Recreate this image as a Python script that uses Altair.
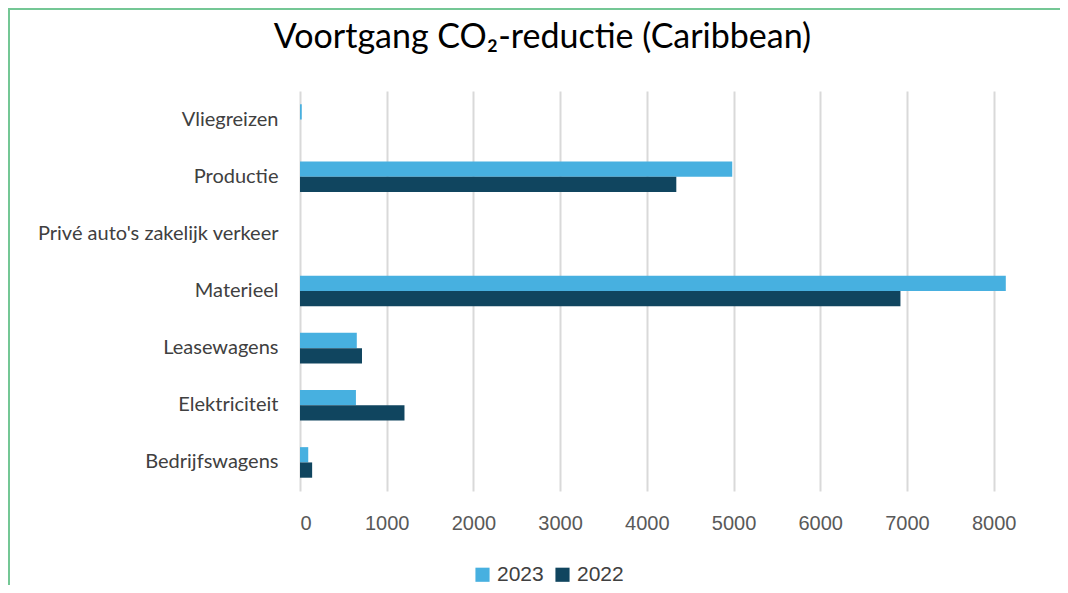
import altair as alt
import pandas as pd

categories = ["Vliegreizen", "Productie", "Privé auto's zakelijk verkeer", "Materieel",
              "Leasewagens", "Elektriciteit", "Bedrijfswagens"]
values_2023 = [20, 4985, 0, 8140, 655, 645, 95]
values_2022 = [0, 4340, 0, 6925, 715, 1205, 140]
years = ["2023", "2022"]
x_ticks = [0, 1000, 2000, 3000, 4000, 5000, 6000, 7000, 8000]

rows = []
for c, v23, v22 in zip(categories, values_2023, values_2022):
    rows.append({"cat": c, "year": "2023", "value": v23})
    rows.append({"cat": c, "year": "2022", "value": v22})
df = pd.DataFrame(rows)

border = alt.Chart(pd.DataFrame({"a": [0]})).mark_rect(
    fill=None, stroke="#74C795", strokeWidth=2
).encode(
    x=alt.value(-291), x2=alt.value(800), y=alt.value(-82), y2=alt.value(600)
)

bars = alt.Chart(df).mark_bar().encode(
    y=alt.Y("cat:N", sort=categories,
            scale=alt.Scale(paddingInner=0.465, paddingOuter=0.2325),
            axis=alt.Axis(title=None, domain=False, ticks=False, grid=False,
                          labelFont="Lato", labelFontSize=20, labelColor="#404040",
                          labelPadding=22, labelLimit=400)),
    yOffset=alt.YOffset("year:N", sort=years),
    x=alt.X("value:Q", scale=alt.Scale(domain=[0, 8200], nice=False),
            axis=alt.Axis(title=None, values=x_ticks, domain=False, ticks=False,
                          grid=True, gridColor="#D9D9D9", gridWidth=2,
                          labelFont="Liberation Sans", labelFontSize=20,
                          labelColor="#595959", labelPadding=22, format="d")),
    color=alt.Color("year:N", sort=years,
                    scale=alt.Scale(domain=years, range=["#47B0E0", "#10455F"]),
                    legend=alt.Legend(title=None, orient="none", direction="horizontal",
                                      legendX=172, legendY=473,
                                      symbolType="square", symbolSize=200,
                                      symbolStrokeWidth=0,
                                      labelFont="Liberation Sans", labelFontSize=21,
                                      labelColor="#404040", columnPadding=8,
                                      symbolOffset=0)),
)

chart = alt.layer(border, bars).properties(
    width=711, height=400,
    autosize=alt.AutoSizeParams(type="none"),
    padding={"left": 292, "top": 83, "right": 49, "bottom": 94},
    title=alt.TitleParams("Voortgang CO₂-reductie (Caribbean)", font="Lato", fontSize=34,
                          fontWeight="normal", color="#000000", anchor="middle",
                          frame="group", dx=-113, offset=-47),
).configure_view(stroke=None)

chart.save("out.html", embed_options={"renderer": "svg", "actions": False})
